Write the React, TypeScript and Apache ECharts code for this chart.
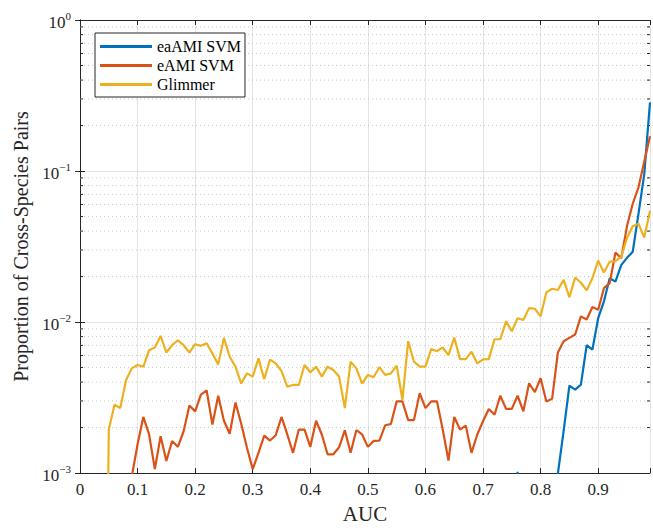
import React, { useEffect, useRef } from "react";
import * as echarts from "echarts";

// AUC grid: 0.00 .. 0.99 step 0.01 (100 bins)
const xMax = 0.99;

const seriesNames = ["eaAMI SVM", "eAMI SVM", "Glimmer"];
const seriesColors = ["#0072BD", "#D95319", "#EDB120"];

// 0 means an empty bin (drawn falling below the axis like the original)
const eaAMI: number[] = [
  0, 0, 0, 0, 0, 0, 0, 0, 0, 0,
  0, 0, 0, 0, 0, 0, 0, 0, 0, 0,
  0, 0, 0, 0, 0, 0, 0, 0, 0, 0,
  0, 0, 0, 0, 0, 0, 0, 0, 0, 0,
  0, 0, 0, 0, 0, 0, 0, 0, 0, 0,
  0, 0, 0, 0, 0, 0, 0, 0, 0, 0,
  0, 0, 0, 0, 0, 0, 0, 0, 0, 0,
  0, 0, 0, 0, 0, 0, 0.00102, 0, 0, 0,
  0, 0, 0, 0.00099, 0.0019, 0.00379, 0.00357, 0.00385, 0.00703, 0.00657,
  0.0106, 0.0137, 0.0195, 0.0185, 0.0238, 0.0266, 0.0292, 0.052, 0.095, 0.285,
];

const eAMI: number[] = [
  0, 0, 0, 0, 0, 0, 0, 0, 0, 0.00095,
  0.00155, 0.00235, 0.0018, 0.00106, 0.00175, 0.0012, 0.00163, 0.00149, 0.00189, 0.0028,
  0.00256, 0.0033, 0.00352, 0.00209, 0.00325, 0.00222, 0.00182, 0.00293, 0.00212, 0.00147,
  0.00106, 0.00136, 0.00177, 0.00164, 0.00178, 0.00235, 0.0018, 0.00136, 0.00194, 0.00194,
  0.00149, 0.00222, 0.0018, 0.00133, 0.00133, 0.00148, 0.00192, 0.00136, 0.00192, 0.0018,
  0.00149, 0.00163, 0.00164, 0.00207, 0.00211, 0.00298, 0.00298, 0.00224, 0.00224, 0.00338,
  0.00269, 0.00298, 0.00298, 0.00194, 0.00121, 0.00235, 0.00194, 0.00206, 0.00136, 0.0018,
  0.0022, 0.00265, 0.00243, 0.00325, 0.00266, 0.00266, 0.00325, 0.00256, 0.00393, 0.00343,
  0.00424, 0.00298, 0.0031, 0.00628, 0.00746, 0.00785, 0.00826, 0.0109, 0.0104, 0.01256,
  0.01206, 0.01675, 0.0181, 0.0289, 0.0264, 0.043, 0.0607, 0.078, 0.115, 0.17,
];

const glimmer: number[] = [
  0, 0, 0, 0, 0, 0.00194, 0.00283, 0.00269, 0.00413, 0.00493,
  0.00519, 0.00506, 0.00651, 0.00678, 0.00809, 0.00628, 0.00702, 0.00757, 0.00702, 0.00628,
  0.00713, 0.00695, 0.00724, 0.00619, 0.00524, 0.00785, 0.00589, 0.00506, 0.00391, 0.00457,
  0.00435, 0.00574, 0.00418, 0.00562, 0.00532, 0.00473, 0.00373, 0.00383, 0.00383, 0.00519,
  0.00464, 0.00506, 0.00435, 0.00506, 0.00481, 0.00435, 0.00269, 0.00546, 0.00493, 0.00391,
  0.00446, 0.00431, 0.00503, 0.00446, 0.00457, 0.00514, 0.00305, 0.00746, 0.00546, 0.00506,
  0.00506, 0.00661, 0.00641, 0.00678, 0.00604, 0.00789, 0.00568, 0.00568, 0.00635, 0.00532,
  0.00565, 0.00568, 0.00769, 0.00769, 0.0101, 0.00869, 0.0106, 0.0103, 0.01236, 0.01224,
  0.0109, 0.0157, 0.0166, 0.0163, 0.019, 0.0146, 0.0197, 0.0182, 0.0162, 0.0195,
  0.0255, 0.0213, 0.0251, 0.0253, 0.027, 0.036, 0.043, 0.0448, 0.0362, 0.0546,
];

const yMin = 0.001;
const yMax = 1;
const xTickInterval = 0.1;
const minorTickValues: number[] = [
  0.002, 0.003, 0.004, 0.005, 0.006, 0.007, 0.008, 0.009,
  0.02, 0.03, 0.04, 0.05, 0.06, 0.07, 0.08, 0.09,
  0.2, 0.3, 0.4, 0.5, 0.6, 0.7, 0.8, 0.9,
];

const FONT = "'Liberation Serif', 'Times New Roman', 'DejaVu Serif', serif";
const AXIS_COLOR = "#262626";
const GRID_COLOR = "#e3e3e3";
const MINOR_GRID_COLOR = "#c8c8c8";
const EMPTY = 1e-6;

export default function App() {
  const ref = useRef<HTMLDivElement>(null);

  useEffect(() => {
    if (!ref.current) return;
    const chart = echarts.init(ref.current, undefined, { renderer: "svg" });

    const toPairs = (arr: number[]) =>
      arr.map((v, i) => [i / 100, v > 0 ? v : EMPTY]);

    const lineSeries = [eaAMI, eAMI, glimmer].map((arr, k) => ({
      type: "line",
      name: seriesNames[k],
      data: toPairs(arr),
      xAxisIndex: 0,
      yAxisIndex: 0,
      showSymbol: false,
      symbol: "none",
      clip: true,
      lineStyle: { color: seriesColors[k], width: 2.2 },
      itemStyle: { color: seriesColors[k] },
      z: 5 + k,
    }));

    const minorSeries = {
      type: "custom",
      name: "minor",
      xAxisIndex: 0,
      yAxisIndex: 0,
      silent: true,
      z: 1,
      data: minorTickValues.map((v) => [0, v]),
      encode: { x: 0, y: 1 },
      renderItem: (params: any, api: any) => {
        const v = api.value(1);
        const p1 = api.coord([0, v]);
        const p2 = api.coord([xMax, v]);
        return {
          type: "group",
          children: [
            {
              type: "line",
              shape: { x1: p1[0], y1: p1[1], x2: p2[0], y2: p2[1] },
              style: { stroke: MINOR_GRID_COLOR, lineWidth: 1, lineDash: [1, 3] },
            },
            {
              type: "line",
              shape: { x1: p1[0], y1: p1[1], x2: p1[0] + 3, y2: p1[1] },
              style: { stroke: AXIS_COLOR, lineWidth: 1 },
            },
            {
              type: "line",
              shape: { x1: p2[0] - 3, y1: p2[1], x2: p2[0], y2: p2[1] },
              style: { stroke: AXIS_COLOR, lineWidth: 1 },
            },
          ],
        };
      },
    };

    const isMajorX = (v: number) =>
      Math.abs(v / xTickInterval - Math.round(v / xTickInterval)) < 1e-6;

    chart.setOption({
      animation: false,
      backgroundColor: "#ffffff",
      grid: { left: 80, top: 20, right: 1, bottom: 53, containLabel: false },
      legend: {
        data: seriesNames.map((n, k) => ({
          name: n,
          icon: "rect",
          itemStyle: { color: seriesColors[k] },
        })),
        orient: "vertical",
        left: 95,
        top: 33,
        itemWidth: 52,
        itemHeight: 3,
        itemGap: 0,
        padding: [4, 4, 3, 5],
        backgroundColor: "#ffffff",
        borderColor: AXIS_COLOR,
        borderWidth: 1,
        textStyle: { fontFamily: FONT, fontSize: 16, color: "#000", lineHeight: 19 },
        selectedMode: false,
      },
      xAxis: [
        {
          type: "value",
          min: 0,
          max: xMax,
          interval: xTickInterval,
          position: "bottom",
          name: "AUC",
          nameLocation: "middle",
          nameGap: 30,
          nameTextStyle: { fontFamily: FONT, fontSize: 21, color: AXIS_COLOR },
          axisLine: { show: true, lineStyle: { color: AXIS_COLOR, width: 1 } },
          axisTick: { show: true, inside: true, length: 5, lineStyle: { color: AXIS_COLOR } },
          axisLabel: {
            fontFamily: FONT,
            fontSize: 17,
            color: AXIS_COLOR,
            margin: 8,
            formatter: (v: number) => (isMajorX(v) ? String(Math.round(v * 10) / 10) : ""),
          },
          splitLine: { show: true, lineStyle: { color: GRID_COLOR, width: 1 } },
        },
        {
          type: "value",
          min: 0,
          max: xMax,
          interval: xTickInterval,
          position: "top",
          axisLine: { show: true, lineStyle: { color: AXIS_COLOR, width: 1 } },
          axisTick: { show: true, inside: true, length: 5, lineStyle: { color: AXIS_COLOR } },
          axisLabel: { show: false },
          splitLine: { show: false },
        },
      ],
      yAxis: [
        {
          type: "log",
          logBase: 10,
          min: yMin,
          max: yMax,
          position: "left",
          name: "Proportion of Cross-Species Pairs",
          nameLocation: "middle",
          nameGap: 46,
          nameTextStyle: { fontFamily: FONT, fontSize: 20, color: AXIS_COLOR },
          axisLine: { show: true, lineStyle: { color: AXIS_COLOR, width: 1 } },
          axisTick: { show: true, inside: true, length: 5, lineStyle: { color: AXIS_COLOR } },
          axisLabel: {
            margin: 9,
            padding: [5, 0, 0, 0],
            formatter: (v: number) => {
              const e = Math.round(Math.log10(v));
              const es = e < 0 ? "\u2212" + String(-e) : String(e);
              return `{b|10}{s|${es}}`;
            },
            rich: {
              b: { fontFamily: FONT, fontSize: 17, color: AXIS_COLOR, lineHeight: 24 },
              s: {
                fontFamily: FONT,
                fontSize: 11,
                color: AXIS_COLOR,
                lineHeight: 12,
                verticalAlign: "top",
              },
            },
          },
          splitLine: { show: true, lineStyle: { color: GRID_COLOR, width: 1 } },
        },
        {
          type: "log",
          logBase: 10,
          min: yMin,
          max: yMax,
          position: "right",
          axisLine: { show: true, lineStyle: { color: AXIS_COLOR, width: 1 } },
          axisTick: { show: true, inside: true, length: 5, lineStyle: { color: AXIS_COLOR } },
          axisLabel: { show: false },
          splitLine: { show: false },
        },
      ],
      series: [minorSeries, ...lineSeries],
    });

    return () => chart.dispose();
  }, []);

  return (
    <div
      ref={ref}
      style={{ position: "absolute", left: 0, top: 0, width: 653, height: 529 }}
    />
  );
}
